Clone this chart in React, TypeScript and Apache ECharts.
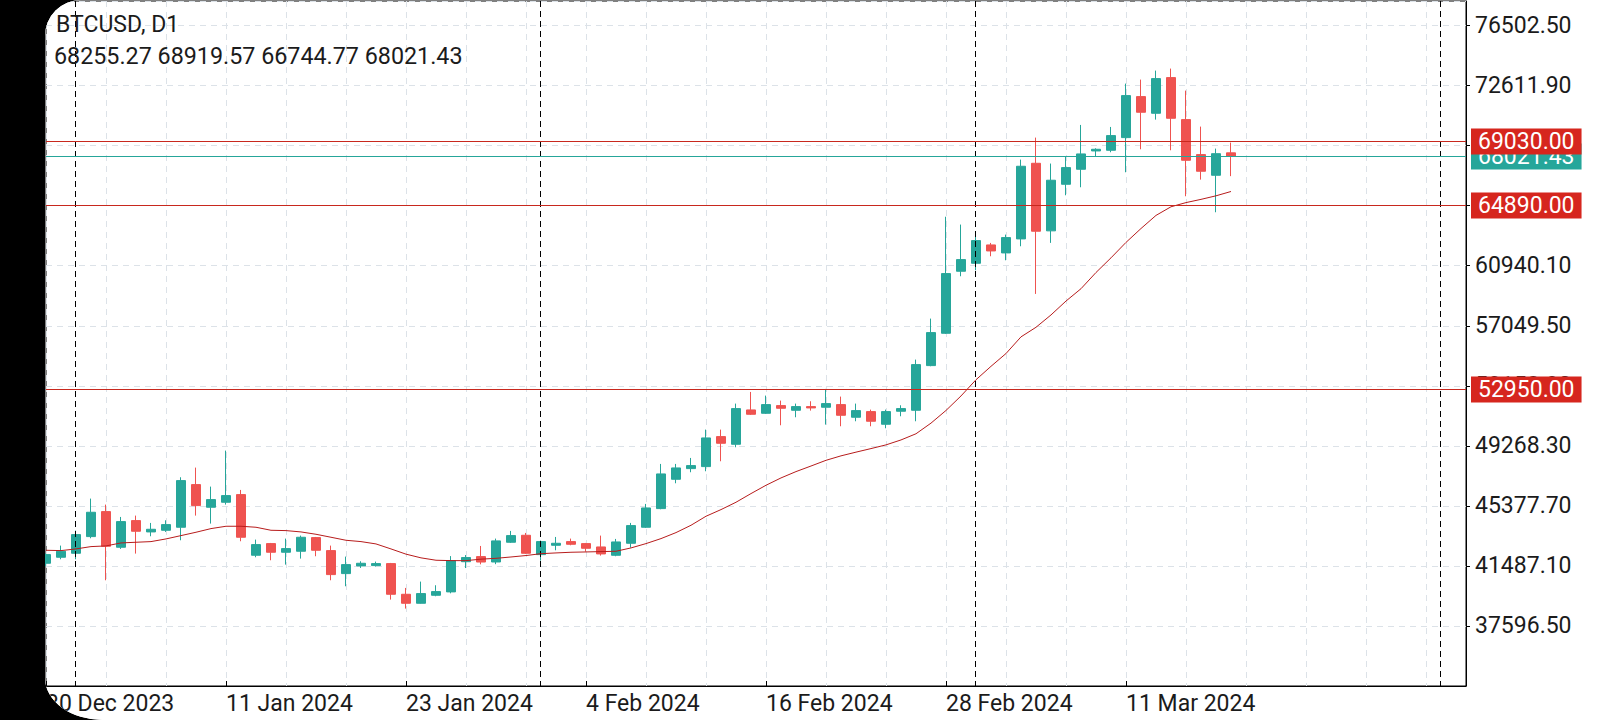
import React, { useEffect, useRef } from "react";
import * as echarts from "echarts";

// Daily BTCUSD candles: [date, open, high, low, close]
const ohlc: [string, number, number, number, number][] = [
  ["2023-12-30", 41659, 42300, 41470, 42221],
  ["2023-12-31", 42048, 42804, 41918, 42437],
  ["2024-01-01", 42307, 43776, 41918, 43517],
  ["2024-01-02", 43387, 45849, 43279, 44964],
  ["2024-01-03", 45007, 45461, 40557, 42761],
  ["2024-01-04", 42696, 44661, 42588, 44359],
  ["2024-01-05", 44424, 44748, 42285, 43733],
  ["2024-01-06", 43690, 44273, 43409, 43862],
  ["2024-01-07", 43797, 44445, 43690, 44165],
  ["2024-01-08", 43992, 47232, 43149, 47016],
  ["2024-01-09", 46757, 47858, 44748, 45396],
  ["2024-01-10", 45288, 46627, 44230, 45785],
  ["2024-01-11", 45612, 48960, 45461, 46044],
  ["2024-01-12", 46109, 46411, 43085, 43344],
  ["2024-01-13", 42178, 43193, 42048, 42869],
  ["2024-01-14", 42933, 42976, 41853, 42372],
  ["2024-01-15", 42372, 43257, 41572, 42609],
  ["2024-01-16", 42437, 43452, 41961, 43344],
  ["2024-01-17", 43322, 43365, 42113, 42501],
  ["2024-01-18", 42480, 42804, 40557, 40925],
  ["2024-01-19", 40989, 42091, 40168, 41572],
  ["2024-01-20", 41486, 41789, 41356, 41659],
  ["2024-01-21", 41508, 41767, 41443, 41637],
  ["2024-01-22", 41637, 41681, 39305, 39650],
  ["2024-01-23", 39650, 40061, 38721, 39067],
  ["2024-01-24", 39067, 40471, 39046, 39694],
  ["2024-01-25", 39585, 40234, 39520, 39823],
  ["2024-01-26", 39804, 42123, 39712, 41832],
  ["2024-01-27", 41760, 42190, 41350, 42030],
  ["2024-01-28", 42090, 42780, 41590, 41740],
  ["2024-01-29", 41742, 43257, 41600, 43110],
  ["2024-01-30", 43020, 43754, 42977, 43452],
  ["2024-01-31", 43473, 43625, 42264, 42307],
  ["2024-02-01", 42220, 43128, 41832, 43063],
  ["2024-02-02", 42825, 43365, 42501, 42955],
  ["2024-02-03", 43063, 43257, 42825, 42890],
  ["2024-02-04", 42933, 42976, 42415, 42631],
  ["2024-02-05", 42717, 43452, 42156, 42264],
  ["2024-02-06", 42177, 43236, 42113, 43041],
  ["2024-02-07", 42955, 44273, 42674, 44100],
  ["2024-02-08", 43992, 45504, 43949, 45244],
  ["2024-02-09", 45201, 48096, 45158, 47448],
  ["2024-02-10", 47102, 48096, 46843, 47837],
  ["2024-02-11", 47793, 48484, 47556, 47988],
  ["2024-02-12", 47923, 50321, 47621, 49781],
  ["2024-02-13", 49867, 50321, 48269, 49435],
  ["2024-02-14", 49370, 52005, 49176, 51681],
  ["2024-02-15", 51595, 52761, 51271, 51314],
  ["2024-02-16", 51379, 52524, 51336, 51941],
  ["2024-02-17", 51876, 52200, 50601, 51703],
  ["2024-02-18", 51573, 52005, 51120, 51811],
  ["2024-02-19", 51811, 52157, 51552, 51725],
  ["2024-02-20", 51768, 52957, 50645, 52005],
  ["2024-02-21", 51940, 52459, 50537, 51249],
  ["2024-02-22", 51120, 52005, 50861, 51551],
  ["2024-02-23", 51487, 51616, 50537, 50861],
  ["2024-02-24", 50667, 51616, 50407, 51487],
  ["2024-02-25", 51509, 51897, 51184, 51681],
  ["2024-02-26", 51573, 54857, 50861, 54533],
  ["2024-02-27", 54468, 57513, 54425, 56606],
  ["2024-02-28", 56563, 64115, 56520, 60430],
  ["2024-02-29", 60581, 63607, 60257, 61337],
  ["2024-03-01", 61099, 63130, 60646, 62568],
  ["2024-03-02", 62287, 62417, 61553, 61898],
  ["2024-03-03", 61769, 62957, 61293, 62763],
  ["2024-03-04", 62677, 67817, 62201, 67385],
  ["2024-03-05", 67579, 69242, 59112, 63175],
  ["2024-03-06", 63200, 67560, 62420, 66480],
  ["2024-03-07", 66218, 67989, 65505, 67298],
  ["2024-03-08", 67190, 70063, 66024, 68184],
  ["2024-03-09", 68378, 68551, 68011, 68486],
  ["2024-03-10", 68421, 69933, 68292, 69372],
  ["2024-03-11", 69242, 72741, 66996, 71964],
  ["2024-03-12", 71899, 73001, 68486, 70884],
  ["2024-03-13", 70819, 73584, 70409, 73065],
  ["2024-03-14", 73130, 73714, 68421, 70495],
  ["2024-03-15", 70409, 72288, 65441, 67773],
  ["2024-03-16", 68141, 69955, 66520, 67061],
  ["2024-03-17", 66801, 68529, 64404, 68200],
  ["2024-03-18", 68255.27, 68919.57, 66744.77, 68021.43],
];

// Moving average, one value per candle
const movingAverage: number[] = [
  42501, 42480, 42588, 42739, 42782, 42977, 43020, 43063, 43236, 43452,
  43668, 43905, 44057, 44057, 43992, 43797, 43776, 43690, 43538, 43344,
  43149, 43063, 42912, 42588, 42250, 42010, 41855, 41830, 41830, 41925,
  41980, 42067, 42160, 42280, 42329, 42372, 42393, 42415, 42437, 42653,
  42933, 43257, 43646, 44121, 44705, 45137, 45612, 46174, 46713, 47189,
  47599, 47960, 48330, 48620, 48860, 49090, 49330, 49650, 50050, 50740,
  51560, 52500, 53550, 54420, 55250, 56330, 56950, 57750, 58650, 59450,
  60500, 61450, 62450, 63350, 64200, 64760, 65030, 65240, 65470, 65750,
];

const symbolName = "BTCUSD, D1";
const levelLines = [69030.0, 64890.0, 52950.0];
const xLabelDates = ["2023-12-30", "2024-01-11", "2024-01-23", "2024-02-04", "2024-02-16", "2024-02-28", "2024-03-11"];
const monthSeparators = ["2024-01-01", "2024-02-01", "2024-03-01", "2024-04-01"];
const MONTHS = ["Jan", "Feb", "Mar", "Apr", "May", "Jun", "Jul", "Aug", "Sep", "Oct", "Nov", "Dec"];

// axis ranges
const Y_MIN = 33705.9;
const Y_MAX = 78094;
const Y_STEP = 3890.6;
const X_MAX_DAYS = 94.667;
const X_GRID_STEP = 4;

const DAY_MS = 86400000;
const startMs = Date.parse(ohlc[0][0] + "T00:00:00Z");
const dayOf = (iso: string) => Math.round((Date.parse(iso + "T00:00:00Z") - startMs) / DAY_MS);
const dateLabel = (iso: string) => {
  const [y, m, d] = iso.split("-");
  return `${Number(d)} ${MONTHS[Number(m) - 1]} ${y}`;
};

const FONT = "Roboto";
const UP = "#26a69a";
const DOWN = "#ef5350";
const LEVEL = "#c8281e";
const LEVEL_BOX = "#d6261e";
const GRID = "#dce2e8";

export default function App() {
  const ref = useRef<HTMLDivElement>(null);

  useEffect(() => {
    document.body.style.margin = "0";
    const chart = echarts.init(ref.current!, null, { renderer: "svg" });
    const last = ohlc[ohlc.length - 1];
    const xLabelDays = xLabelDates.map(dayOf);

    const candleData = ohlc.map((r, i) => [i, r[1], r[4], r[3], r[2]]);
    const maData = movingAverage.map((v, i) => [i, v]);
    // [x, price, kind] kind 0 = current price, 1 = drawn level
    const priceLineData = [[0, last[4], 0], ...levelLines.map((v) => [0, v, 1])];
    const separatorData = monthSeparators.map((s) => [dayOf(s), Y_MIN]);

    const option: any = {
      animation: false,
      backgroundColor: "#ffffff",
      textStyle: { fontFamily: FONT },
      grid: {
        left: 46,
        right: 134,
        top: 1,
        bottom: 34,
        show: true,
        borderColor: "#000",
        borderWidth: 1,
        backgroundColor: "transparent",
      },
      xAxis: [
        {
          type: "value",
          min: 0,
          max: X_MAX_DAYS,
          interval: X_GRID_STEP,
          position: "bottom",
          axisLine: { show: true, onZero: false, lineStyle: { color: "#000", width: 1 } },
          axisTick: { show: false },
          axisLabel: { show: false },
          splitLine: { show: true, lineStyle: { color: GRID, width: 1, type: [6, 5] } },
        },
        {
          type: "value",
          min: 0,
          max: X_MAX_DAYS,
          interval: 12,
          position: "bottom",
          axisLine: { show: false, onZero: false },
          axisTick: {
            show: true,
            inside: true,
            length: 5,
            customValues: xLabelDays,
            lineStyle: { color: "#000", width: 1 },
          },
          axisLabel: {
            show: true,
            customValues: xLabelDays,
            align: "left",
            margin: 6,
            color: "#1b1b1b",
            fontSize: 23,
            fontFamily: FONT,
            showMinLabel: true,
            showMaxLabel: true,
            formatter: (v: number) => {
              const d = Math.round(v);
              if (Math.abs(v - d) > 1e-6 || !xLabelDays.includes(d) || !ohlc[d]) return "";
              return dateLabel(ohlc[d][0]);
            },
          },
          splitLine: { show: false },
        },
      ],
      yAxis: {
        type: "value",
        position: "right",
        min: Y_MIN,
        max: Y_MAX,
        interval: Y_STEP,
        axisLine: { show: true, onZero: false, lineStyle: { color: "#000", width: 1 } },
        axisTick: { show: true, length: 4, lineStyle: { color: "#000" } },
        axisLabel: {
          margin: 9,
          color: "#1b1b1b",
          fontSize: 23,
          fontFamily: FONT,
          showMinLabel: false,
          showMaxLabel: false,
          formatter: (v: number) => v.toFixed(2),
        },
        splitLine: { show: true, lineStyle: { color: GRID, width: 1, type: [6, 5] } },
      },
      graphic: [
        {
          type: "text",
          left: 56,
          top: 13,
          z: 10,
          style: { text: symbolName, font: `23px ${FONT}`, fill: "#1b1b1b" },
        },
        {
          type: "text",
          left: 54,
          top: 44,
          z: 10,
          style: {
            text: [last[1], last[2], last[3], last[4]].map((v) => v.toFixed(2)).join(" "),
            font: `23.3px ${FONT}`,
            fill: "#1b1b1b",
          },
        },
      ],
      series: [
        {
          type: "candlestick",
          name: "BTCUSD",
          xAxisIndex: 0,
          yAxisIndex: 0,
          data: candleData,
          encode: { x: 0, y: [1, 2, 3, 4] },
          barWidth: 9,
          clip: true,
          itemStyle: {
            color: UP,
            color0: DOWN,
            borderColor: UP,
            borderColor0: DOWN,
            borderWidth: 1,
          },
        },
        {
          type: "line",
          name: "MA",
          xAxisIndex: 0,
          yAxisIndex: 0,
          data: maData,
          showSymbol: false,
          symbol: "none",
          lineStyle: { color: "#b71c1c", width: 1 },
        },
        {
          type: "custom",
          name: "Period separators",
          xAxisIndex: 0,
          yAxisIndex: 0,
          silent: true,
          z: 3,
          data: separatorData,
          encode: { x: 0, y: 1 },
          renderItem: (params: any, api: any) => {
            const cs = params.coordSys;
            const x = Math.round(api.coord([api.value(0), Y_MIN])[0]) - 0.5;
            return {
              type: "line",
              shape: { x1: x, y1: cs.y, x2: x, y2: cs.y + cs.height },
              style: { stroke: "#000", lineWidth: 1, lineDash: [6, 4] },
            };
          },
        },
        {
          type: "custom",
          name: "Price lines",
          xAxisIndex: 0,
          yAxisIndex: 0,
          silent: true,
          clip: false,
          z: 4,
          data: priceLineData,
          encode: { x: 0, y: 1 },
          renderItem: (params: any, api: any) => {
            const cs = params.coordSys;
            const price = api.value(1);
            const kind = api.value(2);
            const y = Math.round(api.coord([0, price])[1]) + 0.5;
            const lineColor = kind === 0 ? UP : LEVEL;
            const boxColor = kind === 0 ? UP : LEVEL_BOX;
            return {
              type: "group",
              children: [
                {
                  type: "line",
                  shape: { x1: cs.x, y1: y, x2: cs.x + cs.width, y2: y },
                  style: { stroke: lineColor, lineWidth: 1 },
                },
                {
                  type: "text",
                  x: cs.x + cs.width + 5,
                  y: y,
                  style: {
                    text: price.toFixed(2),
                    fill: "#fff",
                    backgroundColor: boxColor,
                    padding: [2, 7, 1, 7],
                    font: `23px ${FONT}`,
                    align: "left",
                    verticalAlign: "middle",
                  },
                },
              ],
            };
          },
        },
      ],
    };

    chart.setOption(option);
    return () => chart.dispose();
  }, []);

  return (
    <div
      style={{
        position: "fixed",
        left: 0,
        top: 0,
        width: 1600,
        height: 720,
        background: "#000",
        overflow: "hidden",
      }}
    >
      <div
        style={{
          position: "absolute",
          left: 45,
          top: 0,
          width: 1555,
          height: 720,
          background: "#fff",
          overflow: "hidden",
          borderTopLeftRadius: 36,
          borderBottomLeftRadius: "58px 42px",
        }}
      >
        <div ref={ref} style={{ position: "absolute", left: -45, top: 0, width: 1600, height: 720 }} />
      </div>
    </div>
  );
}
